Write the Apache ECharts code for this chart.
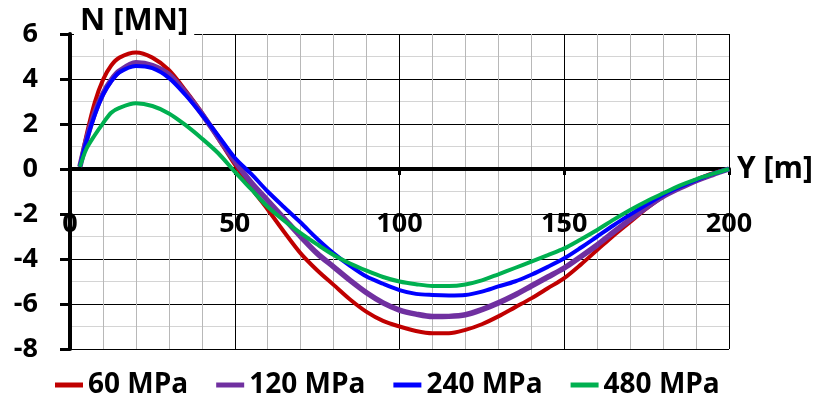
<!DOCTYPE html>
<html>
<head>
<meta charset="utf-8">
<script src="https://cdn.jsdelivr.net/npm/echarts@6/dist/echarts.min.js"></script>
<style>
    html, body { margin: 0; padding: 0; background: #fff; }
    #chart { width: 819px; height: 400px; }
</style>
</head>
<body>
<div id="chart"></div>
<script>
    // Y [m] positions
    var yPos = [3, 5, 7.5, 10, 12.5, 15, 20, 25, 30, 35, 40, 45, 50, 55, 60, 65, 70, 75, 80, 85, 90, 95,
        100, 105, 110, 115, 120, 125, 130, 135, 140, 145, 150, 155, 160, 165, 170, 175, 180, 185, 190, 195, 200];

    // N [MN] for each yield strength
    var n60 = [0.1, 1.5, 2.95, 3.96, 4.6, 4.95, 5.18, 4.95, 4.4, 3.5, 2.5, 1.35, 0.2, -0.85, -1.8, -2.8, -3.75, -4.5, -5.15, -5.8, -6.35, -6.75,
        -7.0, -7.2, -7.3, -7.3, -7.15, -6.9, -6.55, -6.15, -5.75, -5.3, -4.85, -4.25, -3.6, -2.95, -2.35, -1.75, -1.22, -0.8, -0.48, -0.2, 0];
    var n120 = [0.1, 1.3, 2.5, 3.35, 3.95, 4.35, 4.72, 4.6, 4.2, 3.4, 2.45, 1.4, 0.35, -0.6, -1.4, -2.2, -3.0, -3.75, -4.35, -4.95, -5.5, -5.95,
        -6.27, -6.45, -6.56, -6.55, -6.48, -6.25, -5.95, -5.6, -5.2, -4.8, -4.4, -3.9, -3.38, -2.8, -2.25, -1.7, -1.22, -0.85, -0.52, -0.25, 0];
    var n240 = [0.1, 1.25, 2.4, 3.3, 3.9, 4.3, 4.58, 4.48, 4.05, 3.3, 2.42, 1.48, 0.5, -0.22, -1.0, -1.7, -2.38, -3.1, -3.75, -4.3, -4.78, -5.1,
        -5.38, -5.55, -5.6, -5.62, -5.6, -5.45, -5.22, -5.0, -4.7, -4.35, -3.97, -3.5, -3.0, -2.5, -2.03, -1.58, -1.15, -0.8, -0.49, -0.22, 0];
    var n480 = [0.1, 0.9, 1.5, 2.03, 2.5, 2.72, 2.92, 2.8, 2.47, 1.96, 1.36, 0.7, -0.12, -0.9, -1.68, -2.3, -2.85, -3.35, -3.82, -4.2, -4.52, -4.8,
        -5.0, -5.12, -5.2, -5.2, -5.13, -4.95, -4.68, -4.4, -4.12, -3.83, -3.53, -3.13, -2.71, -2.25, -1.82, -1.43, -1.08, -0.74, -0.46, -0.22, 0];

    var legendNames = ["60 MPa", "120 MPa", "240 MPa", "480 MPa"];
    var colors = ["#C00000", "#7030A0", "#0000FF", "#00B050"];
    var widths = [4, 5.5, 4, 4];

    var font = "'Open Sans', 'DejaVu Sans', sans-serif";

    function pairs(ys) {
        return yPos.map(function (x, i) {
            return [x, ys[i]];
        });
    }

    var chart = echarts.init(document.getElementById("chart"));
    var seriesData = [n60, n120, n240, n480];

    var option = {
        animation: false,
        backgroundColor: "#fff",
        textStyle: {fontFamily: font},
        title: {
            text: "N [MN]",
            left: 74,
            top: 6,
            padding: [0, 6, 2, 6],
            backgroundColor: "#fff",
            textStyle: {fontSize: 31, fontWeight: "bold", color: "#000", fontFamily: font},
        },
        legend: {
            data: legendNames,
            left: 50,
            top: 366,
            icon: "rect",
            itemWidth: 28,
            itemHeight: 5,
            itemGap: 28,
            textStyle: {fontSize: 28, fontWeight: "bold", color: "#000", fontFamily: font},
        },
        grid: {left: 70, right: 90, top: 34, bottom: 51, containLabel: false, outerBoundsMode: "none"},
        xAxis: {
            type: "value",
            position: "bottom",
            offset: -180, // move axis up to N = 0
            min: 0,
            max: 200,
            interval: 50,
            name: "Y [m]",
            nameLocation: "end",
            nameGap: 8,
            nameTextStyle: {fontSize: 30, fontWeight: "bold", color: "#000", fontFamily: font},
            axisLine: {onZero: false, lineStyle: {color: "#000", width: 4}},
            axisTick: {show: true, length: 6, lineStyle: {color: "#000", width: 3}},
            axisLabel: {margin: 42, fontSize: 27, fontWeight: "bold", color: "#000", fontFamily: font},
            splitLine: {show: true, lineStyle: {color: "#000", width: 1}},
            minorTick: {show: false, splitNumber: 5},
            minorSplitLine: {show: true, lineStyle: {color: "#b8b8b8", width: 1}},
        },
        yAxis: {
            type: "value",
            min: -8,
            max: 6,
            interval: 2,
            axisLine: {show: true, onZero: false, lineStyle: {color: "#000", width: 4}},
            axisTick: {show: true, length: 10, lineStyle: {color: "#000", width: 3}},
            axisLabel: {margin: 32, fontSize: 27, fontWeight: "bold", color: "#000", fontFamily: font},
            splitLine: {show: true, lineStyle: {color: "#000", width: 1}},
            minorTick: {show: false, splitNumber: 2},
            minorSplitLine: {show: true, lineStyle: {color: "#d4d4d4", width: 1}},
        },
        series: legendNames.map(function (name, i) {
            return {
                name: name,
                type: "line",
                data: pairs(seriesData[i]),
                smooth: 0.3,
                showSymbol: false,
                color: colors[i],
                lineStyle: {color: colors[i], width: widths[i]},
            };
        }),
    };
    chart.setOption(option);
</script>
</body>
</html>
